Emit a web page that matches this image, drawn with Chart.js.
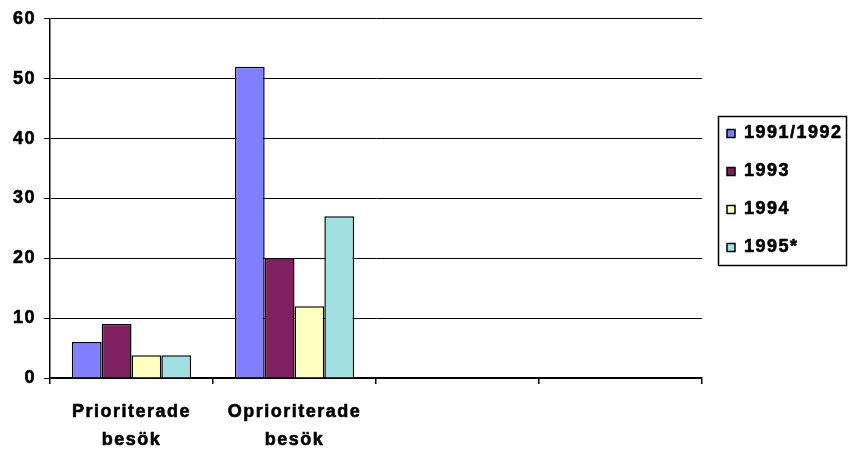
<!DOCTYPE html>
<html>
<head>
<meta charset="utf-8">
<script src="https://cdn.jsdelivr.net/npm/chart.js@4.4.0/dist/chart.umd.min.js"></script>
<style>
  html, body { margin: 0; padding: 0; background: #fff; }
  #wrap { width: 848px; height: 450px; position: relative; }
</style>
</head>
<body>
<div id="wrap"><canvas id="c" width="848" height="450"></canvas></div>
<script>
// Visit categories (two empty slots keep the axis four groups wide)
const categories = [['Prioriterade', 'besök'], ['Oprioriterade', 'besök'], '', ''];
const seriesNames = ['1991/1992', '1993', '1994', '1995*'];
const values1991_92 = [6, 52, null, null];
const values1993 = [9, 20, null, null];
const values1994 = [3.8, 12, null, null];
const values1995 = [3.8, 27, null, null];
const seriesColors = ['#8080FF', '#802060', '#FFFFC0', '#A0E0E0'];
const yTicks = [0, 10, 20, 30, 40, 50, 60];

const FONT = { family: '"Liberation Sans", Arial, sans-serif', size: 18, weight: 'bold' };

// Wide tracking and a slightly heavier stroke for all canvas text
const textStyle = {
  id: 'textStyle',
  afterInit(chart) {
    const ctx = chart.ctx;
    const fill = ctx.fillText.bind(ctx);
    ctx.fillText = function (t, x, y, w) {
      if (w === undefined) fill(t, x, y); else fill(t, x, y, w);
      this.save();
      this.lineWidth = 0.6;
      this.lineJoin = 'round';
      this.strokeStyle = this.fillStyle;
      this.strokeText(t, x, y);
      this.restore();
    };
  },
  beforeUpdate(chart) { chart.ctx.letterSpacing = '1.5px'; },
  beforeDraw(chart) { chart.ctx.letterSpacing = '1.5px'; }
};

// Fixed-width legend column, shifted and framed
const legendFrame = {
  id: 'legendFrame',
  afterInit(chart) {
    const lg = chart.legend;
    const fit = lg.fit.bind(lg);
    lg.fit = function () { fit(); this.width = 146; };
  },
  afterLayout(chart) {
    const lg = chart.legend;
    lg.left += 5;
    lg.right = lg.left + 141;
    lg.width = 141;
    lg.top -= 42;
    lg.bottom -= 42;
  },
  afterDraw(chart) {
    const boxes = chart.legend.legendHitBoxes;
    if (!boxes || !boxes.length) return;
    const ctx = chart.ctx;
    const first = boxes[0], last = boxes[boxes.length - 1];
    const top = Math.round(first.top + first.height / 2 - 18) + 0.5;
    const bottom = Math.round(last.top + last.height / 2 + 17) + 0.5;
    const left = Math.round(first.left - 9) + 0.5;
    const right = chart.width - 1.5;
    ctx.save();
    ctx.strokeStyle = '#000';
    ctx.lineWidth = 1.5;
    ctx.strokeRect(left, top, right - left, bottom - top);
    ctx.restore();
  }
};

const seriesValues = [values1991_92, values1993, values1994, values1995];

new Chart(document.getElementById('c'), {
  type: 'bar',
  data: {
    labels: categories,
    datasets: seriesNames.map((name, i) => ({
      label: name,
      data: seriesValues[i],
      backgroundColor: seriesColors[i],
      borderColor: '#000',
      borderWidth: 1.5,
      categoryPercentage: 0.732,
      barPercentage: 1
    }))
  },
  options: {
    responsive: false,
    animation: false,
    devicePixelRatio: 1,
    layout: { padding: { top: 15, right: 0, left: 0, bottom: 0 } },
    plugins: {
      legend: {
        position: 'right',
        labels: {
          font: FONT,
          color: '#000',
          boxWidth: 8,
          boxHeight: 8,
          padding: 20
        }
      },
      tooltip: { enabled: false },
      title: { display: false }
    },
    scales: {
      x: {
        afterFit(scale) { scale.height = 72; },
        grid: {
          offset: true,
          drawOnChartArea: false,
          drawTicks: true,
          tickLength: 6,
          color: '#000',
          lineWidth: 1.5
        },
        border: { display: true, color: '#000', width: 1.5 },
        ticks: {
          font: Object.assign({}, FONT, { lineHeight: 1.55 }),
          color: '#000',
          padding: 14,
          maxRotation: 0,
          autoSkip: false
        }
      },
      y: {
        min: 0,
        max: 60,
        afterFit(scale) { scale.width = 50; },
        afterBuildTicks(scale) { scale.ticks = yTicks.map(v => ({ value: v })); },
        grid: {
          color: '#000',
          lineWidth: 1,
          tickLength: 6
        },
        border: { display: true, color: '#000', width: 1.5 },
        ticks: {
          font: FONT,
          color: '#000',
          padding: 8
        }
      }
    }
  },
  plugins: [textStyle, legendFrame]
});
</script>
</body>
</html>
